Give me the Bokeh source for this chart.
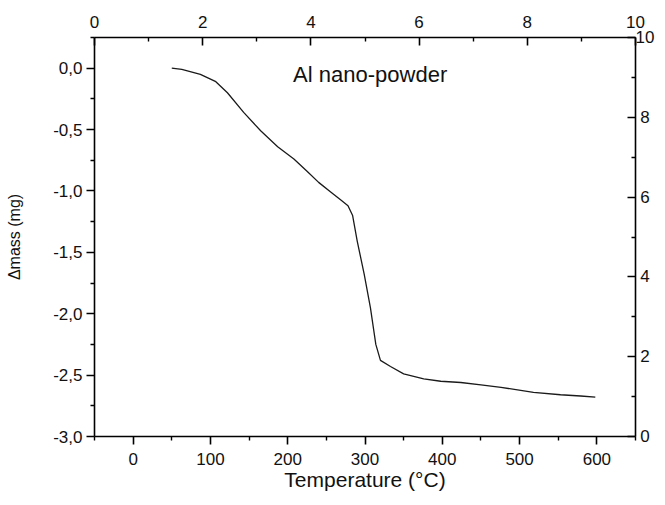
from bokeh.plotting import figure
from bokeh.models import (Range1d, LinearAxis, FixedTicker, CustomJSTickFormatter, Label)
from bokeh.embed import file_html
from bokeh.resources import INLINE

# Data (temperature in °C, mass change in mg)
temperature = [50, 63, 87, 107, 122, 143, 165, 187, 208, 225, 240, 256, 270, 278,
               284, 290, 299, 307, 314, 320, 333, 350, 376, 398, 424, 450, 476,
               518, 553, 579, 598]
delta_mass = [0.0, -0.01, -0.05, -0.11, -0.2, -0.36, -0.51, -0.64, -0.74, -0.84,
              -0.93, -1.01, -1.08, -1.12, -1.2, -1.41, -1.68, -1.95, -2.25, -2.38,
              -2.43, -2.49, -2.53, -2.55, -2.56, -2.58, -2.60, -2.64, -2.66, -2.67, -2.68]

x_major = [0, 100, 200, 300, 400, 500, 600]
x_minor = [-50, 50, 150, 250, 350, 450, 550, 650]
y_major = [-3.0, -2.5, -2.0, -1.5, -1.0, -0.5, 0.0]
y_minor = [-2.75, -2.25, -1.75, -1.25, -0.75, -0.25, 0.25]
aux_major = [0, 2, 4, 6, 8, 10]
aux_minor = [1, 3, 5, 7, 9]

title_text = "Al nano-powder"
x_label = "Temperature (°C)"
y_label = "\u0394mass (mg)"

FONT = "Liberation Sans"

p = figure(width=657, height=497, output_backend="svg", toolbar_location=None,
           x_range=Range1d(-50, 650), y_range=Range1d(-3.0, 0.25),
           min_border_left=94, min_border_top=37, min_border_right=22,
           min_border_bottom=61, x_axis_location=None, y_axis_location=None)
p.xgrid.visible = False
p.ygrid.visible = False
p.outline_line_color = None
p.background_fill_color = "white"
p.border_fill_color = "white"

p.extra_x_ranges = {"top": Range1d(0, 10)}
p.extra_y_ranges = {"right": Range1d(0, 10)}


def style(ax, inward=False):
    ax.axis_line_color = "black"
    ax.axis_line_width = 1.6
    ax.major_tick_line_color = "black"
    ax.minor_tick_line_color = "black"
    ax.major_tick_line_width = 1.6
    ax.minor_tick_line_width = 1.4
    if inward:
        ax.major_tick_in = 8
        ax.major_tick_out = 0
        ax.minor_tick_in = 4
        ax.minor_tick_out = 0
    else:
        ax.major_tick_in = 0
        ax.major_tick_out = 8
        ax.minor_tick_in = 0
        ax.minor_tick_out = 4
    ax.major_label_text_font = FONT
    ax.major_label_text_font_size = "17px"
    ax.major_label_text_color = "#111111"
    ax.axis_label_text_font = FONT
    ax.axis_label_text_font_style = "normal"
    ax.axis_label_text_color = "#111111"


bottom = LinearAxis(ticker=FixedTicker(ticks=x_major, minor_ticks=x_minor),
                    axis_label=x_label)
style(bottom)
bottom.axis_label_text_font_size = "21px"
bottom.major_label_standoff = 8
bottom.axis_label_standoff = 0
p.add_layout(bottom, "below")

left = LinearAxis(ticker=FixedTicker(ticks=y_major, minor_ticks=y_minor),
                  axis_label=y_label,
                  formatter=CustomJSTickFormatter(code="return tick.toFixed(1).replace('.', ',');"))
style(left)
left.axis_label_text_font_size = "16px"
left.major_label_standoff = 4
left.axis_label_standoff = 27
p.add_layout(left, "left")

top = LinearAxis(x_range_name="top",
                 ticker=FixedTicker(ticks=aux_major, minor_ticks=aux_minor))
style(top, inward=True)
top.major_label_standoff = 10
p.add_layout(top, "above")

right = LinearAxis(y_range_name="right",
                   ticker=FixedTicker(ticks=aux_major, minor_ticks=aux_minor),
                   formatter=CustomJSTickFormatter(
                       code="return (tick < 10 ? '\\u2008' : '') + tick.toFixed(0);"))
style(right, inward=True)
right.major_label_standoff = 0
p.add_layout(right, "right")

p.line(temperature, delta_mass, line_color="#1a1a1a", line_width=1.3)

p.add_layout(Label(x=207, y=-0.05, text=title_text, text_font=FONT,
                   text_font_size="22px", text_color="#111111",
                   text_baseline="alphabetic"))

open("out.html", "w").write(file_html(p, INLINE))
